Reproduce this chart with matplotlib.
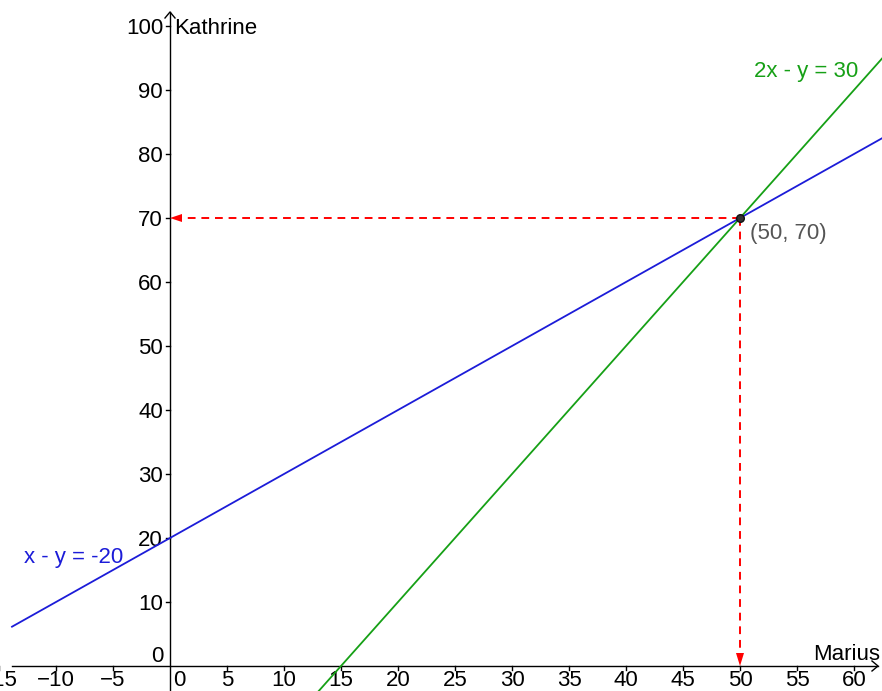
import matplotlib
matplotlib.use("Agg")
import matplotlib.pyplot as plt
import numpy as np

plt.rcParams['font.family'] = ['Liberation Sans', 'DejaVu Sans']

# data
x_ticks = [-15, -10, -5, 0, 5, 10, 15, 20, 25, 30, 35, 40, 45, 50, 55, 60]
y_ticks = [0, 10, 20, 30, 40, 50, 60, 70, 80, 90, 100]
line1 = dict(a=1, b=-1, c=-20, label="x - y = -20", color="#1c1cd8")   # x - y = -20
line2 = dict(a=2, b=-1, c=30, label="2x - y = 30", color="#16a016")    # 2x - y = 30
sol = (50, 70)
x_label = "Marius"
y_label = "Kathrine"

W, H = 882, 691
fig = plt.figure(figsize=(W / 100, H / 100), dpi=100)
ax = fig.add_axes([0, 0, 1, 1])
x0px, y0px = 170, 666
sx, sy = 11.4, 6.4
xmin, xmax = (0 - x0px) / sx, (W - x0px) / sx
ymin, ymax = -(H - y0px) / sy, y0px / sy
ax.set_xlim(xmin, xmax)
ax.set_ylim(ymin, ymax)
ax.axis('off')

xl = (12 - x0px) / sx
xr = (878 - x0px) / sx
yt = (y0px - 12) / sy

# axes lines
ax.plot([xl, xr], [0, 0], color='black', lw=1.0, zorder=2)
ax.plot([0, 0], [ymin, yt], color='black', lw=1.0, zorder=2)
# open arrowheads
ax.plot([xr - 6 / sx, xr, xr - 6 / sx], [5 / sy, 0, -5 / sy], color='black', lw=1.0, zorder=2)
ax.plot([-5 / sx, 0, 5 / sx], [yt - 6 / sy, yt, yt - 6 / sy], color='black', lw=1.0, zorder=2)

fs = 16
for t in x_ticks:
    if t != 0:
        ax.plot([t, t], [0, -4 / sy], color='black', lw=1.0)
    xpos = t + (9 / sx if t == 0 else 0)
    if t < 0:
        txt = "\u2212" + str(-t)
    else:
        txt = str(t)
    ax.text(xpos, -15 / sy, txt, ha='center', va='center', fontsize=fs, color='black')
for t in y_ticks:
    if t != 0:
        ax.plot([-4 / sx, 0], [t, t], color='black', lw=1.0)
    ypos = t + (10 / sy if t == 0 else -2 / sy)
    ax.text(-7 / sx, ypos, str(t), ha='right', va='center', fontsize=fs, color='black')

ax.text(4 / sx, 100 - 2 / sy, y_label, ha='left', va='center', fontsize=fs, color='black')
ax.text(xr + 2 / sx, 11 / sy, x_label, ha='right', va='center', fontsize=fs, color='black')

# lines
xs = np.array([xl, xmax])
for ln in (line1, line2):
    ys = (ln['a'] * xs - ln['c']) / (-ln['b'])
    ax.plot(xs, ys, color=ln['color'], lw=1.3, zorder=3)

ax.text(24 / sx + xmin, (y0px - 557) / sy, line1['label'], ha='left', va='center', fontsize=fs, color=line1['color'])
ax.text((754 - x0px) / sx, (y0px - 71) / sy, line2['label'], ha='left', va='center', fontsize=fs, color=line2['color'])

# dashed arrows to axes
px, py = sol
ax.plot([px, 0 + 10 / sx], [py, py], color='#ff0000', lw=1.4, ls=(0, (4, 3)), zorder=4)
ax.plot([px, px], [py, 0 + 12 / sy], color='#ff0000', lw=1.4, ls=(0, (4, 3)), zorder=4)
ax.fill([0, 12 / sx, 12 / sx], [py, py + 4 / sy, py - 4 / sy], color='#ff0000', zorder=4, lw=0)
ax.fill([px, px - 4 / sx, px + 4 / sx], [0, 13 / sy, 13 / sy], color='#ff0000', zorder=4, lw=0)

ax.plot([px], [py], 'o', ms=5.5, color='#333333', mec='#111111', zorder=5)
ax.text(px + 10 / sx, py - 15 / sy, "(%d, %d)" % sol, ha='left', va='center', fontsize=fs, color='#555555')

fig.savefig("out.png", dpi=100)
